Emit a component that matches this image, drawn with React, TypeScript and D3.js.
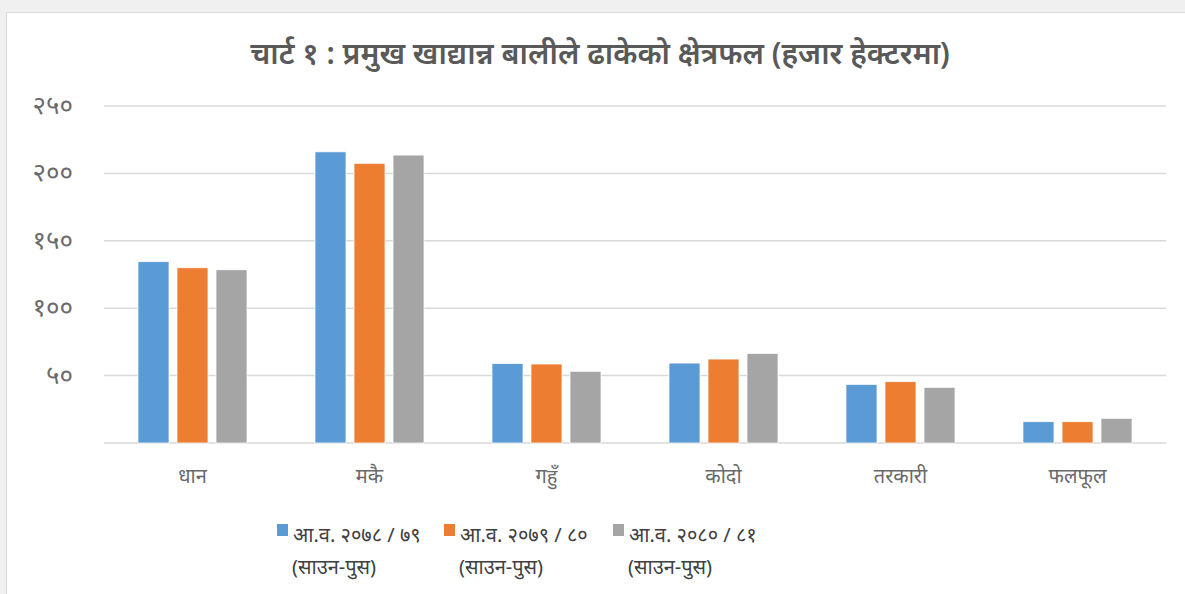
import { useEffect, useRef } from "react"
import * as d3 from "d3"

const categories = ["धान", "मकै", "गहुँ", "कोदो", "तरकारी", "फलफूल"]
const seriesNames = ["आ.व. २०७८/७९", "आ.व. २०७९/८०", "आ.व. २०८०/८१"]
const seriesSub = "(साउन-पुस)"
const colors = ["#5b9bd5", "#ed7d31", "#a5a5a5"]

const fy7879 = [134.5, 216, 59, 59.3, 43.5, 15.8]
const fy7980 = [130, 207.5, 58.6, 62.3, 45.5, 15.8]
const fy8081 = [128.5, 213.6, 53.2, 66.5, 41.3, 18.3]

const yTicks = [0, 50, 100, 150, 200, 250]

const W = 1185
const H = 594
const FONT = "'Noto Sans', 'Noto Sans Devanagari', sans-serif"

function toDeva(n: number) {
    const digits = "०१२३४५६७८९"
    return String(n).replace(/[0-9]/g, c => digits[+c])
}

export default function App() {
    const ref = useRef<SVGSVGElement>(null)

    useEffect(() => {
        const svg = d3.select(ref.current)
        svg.selectAll("*").remove()

        const margin = { top: 106, right: 19, bottom: 151, left: 104 }
        const innerW = W - margin.left - margin.right
        const innerH = H - margin.top - margin.bottom

        // background + chart panel
        svg.append("rect").attr("width", W).attr("height", H).attr("fill", "#f0f0f0")
        svg.append("rect")
            .attr("x", 6.5).attr("y", 12.5)
            .attr("width", W).attr("height", H)
            .attr("fill", "#fff")
            .attr("stroke", "#d9d9d9")

        svg.append("text")
            .attr("x", 600)
            .attr("y", 64)
            .attr("text-anchor", "middle")
            .attr("font-family", FONT)
            .attr("font-size", 30)
            .attr("font-weight", 600)
            .attr("fill", "#595959")
            .text("चार्ट १ : प्रमुख खाद्यान्न बालीले ढाकेको क्षेत्रफल (हजार हेक्टरमा)")

        const g = svg.append("g").attr("transform", `translate(${margin.left},${margin.top})`)

        const x0 = d3.scaleBand().domain(categories).range([0, innerW]).padding(0)
        const x1 = d3.scaleBand<number>()
            .domain([0, 1, 2])
            .range([x0.bandwidth() * 0.192, x0.bandwidth() * 0.808])
            .paddingInner(0.205)
            .paddingOuter(0)
        const y = d3.scaleLinear().domain([0, 250]).range([innerH, 0])

        g.append("g")
            .selectAll("line")
            .data(yTicks)
            .join("line")
            .attr("x1", 0)
            .attr("x2", innerW)
            .attr("y1", d => y(d))
            .attr("y2", d => y(d))
            .attr("stroke", "#d9d9d9")
            .attr("stroke-width", 1.5)

        g.append("g")
            .selectAll("text")
            .data(yTicks.filter(d => d > 0))
            .join("text")
            .attr("x", -31)
            .attr("y", d => y(d) + 8)
            .attr("text-anchor", "end")
            .attr("font-family", FONT)
            .attr("font-size", 26)
            .attr("fill", "#6a6a6a")
            .text(d => toDeva(d))

        const series = [fy7879, fy7980, fy8081]
        series.forEach((vals, si) => {
            g.append("g")
                .selectAll("rect")
                .data(vals)
                .join("rect")
                .attr("x", (d, i) => (x0(categories[i]) ?? 0) + (x1(si) ?? 0))
                .attr("y", d => y(d))
                .attr("width", x1.bandwidth())
                .attr("height", d => innerH - y(d))
                .attr("fill", colors[si])
                .attr("stroke", "#fff")
                .attr("stroke-width", 0.75)
        })

        g.append("g")
            .selectAll("text")
            .data(categories)
            .join("text")
            .attr("x", d => (x0(d) ?? 0) + x0.bandwidth() / 2)
            .attr("y", innerH + 40)
            .attr("text-anchor", "middle")
            .attr("font-family", FONT)
            .attr("font-size", 20)
            .attr("fill", "#6a6a6a")
            .text(d => d)

        const legendX = [277, 444, 613]
        const lg = svg.append("g")
        seriesNames.forEach((name, i) => {
            lg.append("rect")
                .attr("x", legendX[i])
                .attr("y", 524)
                .attr("width", 11)
                .attr("height", 12)
                .attr("fill", colors[i])
            lg.append("text")
                .attr("x", legendX[i] + 16)
                .attr("y", 542)
                .attr("font-family", FONT)
                .attr("font-size", 20)
                .attr("fill", "#404040")
                .text(name.replace("/", " / "))
            lg.append("text")
                .attr("x", legendX[i] + 15)
                .attr("y", 574)
                .attr("font-family", FONT)
                .attr("font-size", 20)
                .attr("fill", "#404040")
                .text(seriesSub)
        })
    }, [])

    return (
        <div style={{ position: "fixed", left: 0, top: 0 }}>
            <svg ref={ref} width={W} height={H} style={{ display: "block" }} />
        </div>
    )
}
